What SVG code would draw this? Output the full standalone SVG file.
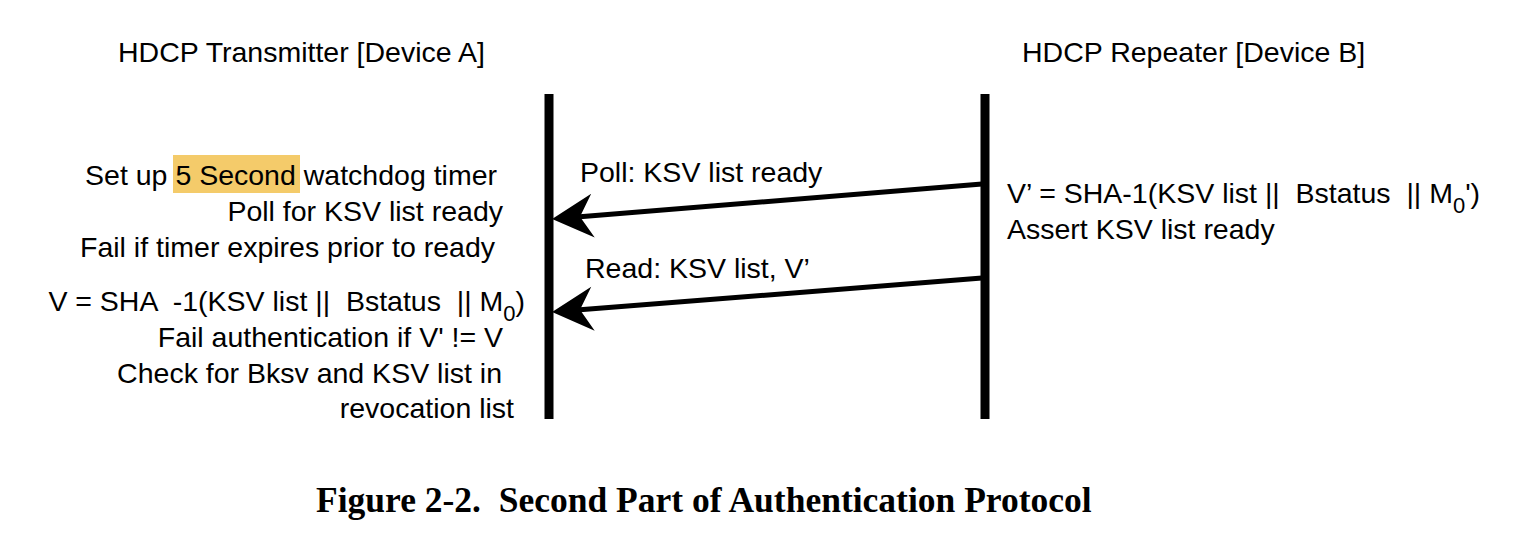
<svg xmlns="http://www.w3.org/2000/svg" width="1532" height="548" viewBox="0 0 1532 548">
<style>
text{font-family:"Liberation Sans",Arial,sans-serif;font-size:28.5px;fill:#000;white-space:pre}
.r{text-anchor:end}
.cap{font-family:"Liberation Serif","Times New Roman",serif;font-weight:bold;font-size:35.5px}
.life{stroke:#000;stroke-width:9;fill:none}
.msg{stroke:#000;stroke-width:5;fill:none;marker-end:url(#ah)}
</style>
<defs>
<marker id="ah" viewBox="-42 -24 46 48" markerWidth="46" markerHeight="48" refX="-28" refY="0" orient="auto" markerUnits="userSpaceOnUse">
<path d="M0 0 L-41 -22 L-28 0 L-41 22 Z" fill="#000"/>
</marker>
</defs>
<rect width="1532" height="548" fill="#fff"/>
<g id="deviceA">
<text x="118" y="62">HDCP Transmitter [Device A]</text>
<line class="life" x1="549" y1="94" x2="549" y2="419"/>
<rect x="173" y="155" width="127" height="38" fill="#F4CB6A"/>
<text class="r" x="497" y="185">Set up 5 Second watchdog timer</text>
<text class="r" x="503" y="221">Poll for KSV list ready</text>
<text class="r" x="495" y="257">Fail if timer expires prior to ready</text>
<text class="r" x="525" y="311">V = SHA  -1(KSV list ||  Bstatus  || M<tspan dy="10" font-size="22">0</tspan><tspan dy="-10">)</tspan></text>
<text class="r" x="503" y="347">Fail authentication if V' != V</text>
<text class="r" x="502" y="383">Check for Bksv and KSV list in</text>
<text class="r" x="514" y="418">revocation list</text>
</g>
<g id="deviceB">
<text x="1022" y="62">HDCP Repeater [Device B]</text>
<line class="life" x1="985" y1="94" x2="985" y2="419"/>
<text x="1007" y="203">V’ = SHA-1(KSV list ||  Bstatus  || M<tspan dy="10" font-size="22">0</tspan><tspan dy="-10">')</tspan></text>
<text x="1007" y="239">Assert KSV list ready</text>
</g>
<g id="connectors">
<line class="msg" x1="982" y1="184" x2="580" y2="216.7"/>
<text x="580" y="182">Poll: KSV list ready</text>
<line class="msg" x1="982" y1="278" x2="580" y2="309.8"/>
<text x="585" y="278">Read: KSV list, V’</text>
</g>
<text class="cap" x="316" y="512">Figure 2-2.  Second Part of Authentication Protocol</text>
</svg>
